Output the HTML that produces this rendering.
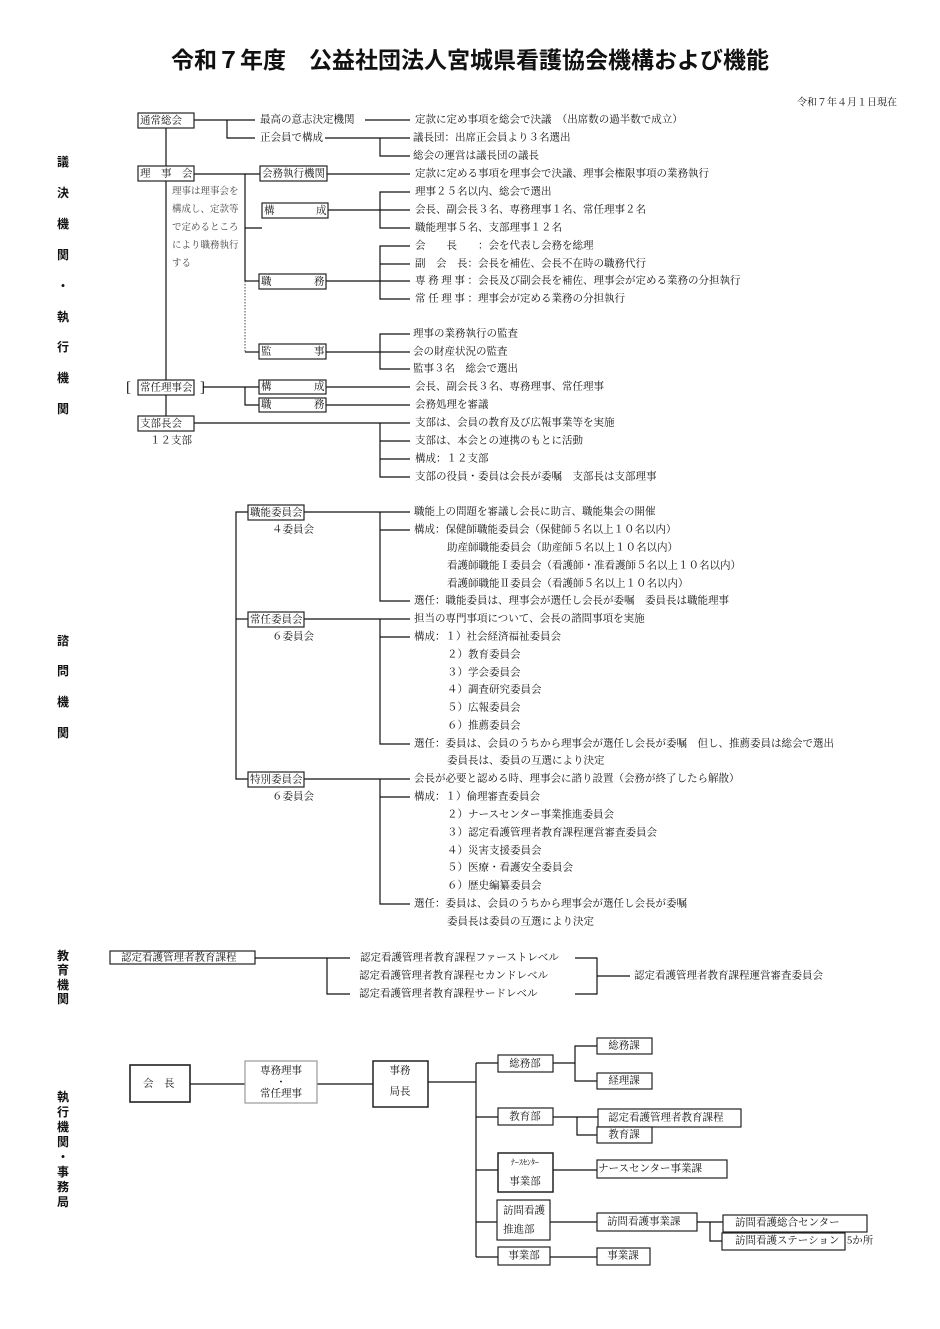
<!DOCTYPE html>
<html><head><meta charset="utf-8"><style>
html,body{margin:0;padding:0;background:#fff;}
svg{display:block;}
text{font-family:"Liberation Serif","Noto Serif CJK SC",serif;font-size:10.5px;fill:#111;dominant-baseline:middle;}
.t{font-family:"Liberation Sans","Noto Sans CJK JP",sans-serif;font-size:23px;font-weight:bold;text-anchor:middle;}
.s{font-size:9.5px;fill:#444;}
.v{font-family:"Liberation Sans","Noto Sans CJK JP",sans-serif;font-size:12px;font-weight:bold;text-anchor:middle;}
line,polyline{stroke:#111;stroke-width:1.2;fill:none;}
rect{fill:#fff;stroke:#222;stroke-width:1.2;}
</style></head><body>
<svg width="940" height="1329" viewBox="0 0 940 1329" xmlns="http://www.w3.org/2000/svg">
<text class="t" x="470" y="62">令和７年度　公益社団法人宮城県看護協会機構および機能</text>
<text x="897" y="103" style="text-anchor:end;font-size:10px">令和７年４月１日現在</text>

<g>
<text class="v" x="63" y="163">議</text><text class="v" x="63" y="194">決</text><text class="v" x="63" y="225">機</text><text class="v" x="63" y="256">関</text><text class="v" x="63" y="287">・</text><text class="v" x="63" y="318">執</text><text class="v" x="63" y="348">行</text><text class="v" x="63" y="379">機</text><text class="v" x="63" y="410">関</text>
<text class="v" x="63" y="642">諮</text><text class="v" x="63" y="672">問</text><text class="v" x="63" y="703">機</text><text class="v" x="63" y="734">関</text>
<text class="v" x="63" y="957">教</text><text class="v" x="63" y="971">育</text><text class="v" x="63" y="986">機</text><text class="v" x="63" y="1000">関</text>
<text class="v" x="63" y="1098">執</text><text class="v" x="63" y="1113">行</text><text class="v" x="63" y="1128">機</text><text class="v" x="63" y="1143">関</text><text class="v" x="63" y="1158">・</text><text class="v" x="63" y="1173">事</text><text class="v" x="63" y="1188">務</text><text class="v" x="63" y="1203">局</text>
</g>

<line x1="166" y1="128" x2="166" y2="416"/>
<line x1="194" y1="120" x2="255" y2="120"/>
<polyline points="227,120 227,138 255,138"/>
<line x1="365" y1="120" x2="410" y2="120"/>
<line x1="325" y1="138" x2="410" y2="138"/>
<polyline points="380,138 380,156 410,156"/>
<line x1="194" y1="174" x2="260" y2="174"/>
<line x1="245" y1="174" x2="245" y2="281"/>
<line x1="245" y1="281" x2="245" y2="352" style="stroke-dasharray:1.5,1.5;stroke:#666"/>
<line x1="245" y1="228" x2="262" y2="228"/>
<line x1="245" y1="281" x2="259" y2="281"/>
<line x1="245" y1="352" x2="259" y2="352"/>
<line x1="327" y1="174" x2="410" y2="174"/>
<line x1="328" y1="210" x2="410" y2="210"/>
<polyline points="410,192 380,192 380,228 410,228"/>
<line x1="326" y1="281" x2="380" y2="281"/>
<polyline points="410,246 380,246 380,299 410,299"/>
<line x1="380" y1="264" x2="410" y2="264"/><line x1="380" y1="281" x2="410" y2="281"/>
<line x1="326" y1="352" x2="410" y2="352"/>
<polyline points="410,334 380,334 380,369 410,369"/>
<line x1="203" y1="387" x2="259" y2="387"/>
<polyline points="245,387 245,405 259,405"/>
<line x1="326" y1="387" x2="410" y2="387"/>
<line x1="326" y1="405" x2="410" y2="405"/>
<line x1="194" y1="423" x2="410" y2="423"/>
<polyline points="380,423 380,477 410,477"/>
<line x1="380" y1="441" x2="410" y2="441"/><line x1="380" y1="459" x2="410" y2="459"/>

<rect x="138" y="113" width="56" height="15"/><text x="140" y="121">通常総会</text>
<rect x="138" y="166" width="56" height="15"/><text x="140" y="174">理　事　会</text>
<rect x="260" y="166" width="67" height="15"/><text x="262" y="174">会務執行機関</text>
<rect x="262" y="203" width="66" height="15"/><text x="264" y="211">構</text><text x="316" y="211">成</text>
<rect x="259" y="274" width="67" height="15"/><text x="261" y="282">職</text><text x="314" y="282">務</text>
<rect x="259" y="344" width="67" height="15"/><text x="261" y="352">監</text><text x="314" y="352">事</text>
<text x="126" y="388" style="font-size:15px">[</text><text x="200" y="388" style="font-size:15px">]</text>
<rect x="138" y="380" width="56" height="15"/><text x="140" y="388">常任理事会</text>
<rect x="259" y="380" width="67" height="14"/><text x="261" y="387">構</text><text x="314" y="387">成</text>
<rect x="259" y="398" width="67" height="14"/><text x="261" y="405">職</text><text x="314" y="405">務</text>
<rect x="138" y="416" width="56" height="15"/><text x="140" y="424">支部長会</text>
<text x="150" y="441">１２支部</text>

<text x="260" y="120">最高の意志決定機関</text>
<text x="260" y="138">正会員で構成</text>
<text class="s" x="172" y="192">理事は理事会を</text>
<text class="s" x="172" y="210">構成し、定款等</text>
<text class="s" x="172" y="228">で定めるところ</text>
<text class="s" x="172" y="246">により職務執行</text>
<text class="s" x="172" y="264">する</text>

<text x="415" y="120">定款に定め事項を総会で決議　（出席数の過半数で成立）</text>
<text x="413" y="138">議長団：出席正会員より３名選出</text>
<text x="413" y="156">総会の運営は議長団の議長</text>
<text x="415" y="174">定款に定める事項を理事会で決議、理事会権限事項の業務執行</text>
<text x="415" y="192">理事２５名以内、総会で選出</text>
<text x="415" y="210">会長、副会長３名、専務理事１名、常任理事２名</text>
<text x="415" y="228">職能理事５名、支部理事１２名</text>
<text x="415" y="246">会　　長　　：会を代表し会務を総理</text>
<text x="415" y="264">副　会　長：会長を補佐、会長不在時の職務代行</text>
<text x="415" y="281">専 務 理 事 ：会長及び副会長を補佐、理事会が定める業務の分担執行</text>
<text x="415" y="299">常 任 理 事 ：理事会が定める業務の分担執行</text>
<text x="413" y="334">理事の業務執行の監査</text>
<text x="413" y="352">会の財産状況の監査</text>
<text x="413" y="369">監事３名　総会で選出</text>
<text x="415" y="387">会長、副会長３名、専務理事、常任理事</text>
<text x="415" y="405">会務処理を審議</text>
<text x="415" y="423">支部は、会員の教育及び広報事業等を実施</text>
<text x="415" y="441">支部は、本会との連携のもとに活動</text>
<text x="415" y="459">構成：１２支部</text>
<text x="415" y="477">支部の役員・委員は会長が委嘱　支部長は支部理事</text>

<polyline points="248,512 236,512 236,779 248,779"/>
<line x1="236" y1="619" x2="248" y2="619"/>
<line x1="304" y1="512" x2="410" y2="512"/>
<polyline points="380,512 380,601 410,601"/><line x1="380" y1="530" x2="410" y2="530"/>
<line x1="304" y1="619" x2="410" y2="619"/>
<polyline points="380,619 380,744 410,744"/><line x1="380" y1="637" x2="410" y2="637"/>
<line x1="304" y1="779" x2="410" y2="779"/>
<polyline points="380,779 380,904 410,904"/><line x1="380" y1="797" x2="410" y2="797"/>

<rect x="248" y="505" width="56" height="15"/><text x="250" y="513">職能委員会</text>
<text x="272" y="530">４委員会</text>
<rect x="248" y="612" width="56" height="15"/><text x="250" y="620">常任委員会</text>
<text x="272" y="637">６委員会</text>
<rect x="248" y="772" width="56" height="15"/><text x="250" y="780">特別委員会</text>
<text x="272" y="797">６委員会</text>

<text x="414" y="512">職能上の問題を審議し会長に助言、職能集会の開催</text>
<text x="414" y="530">構成：保健師職能委員会（保健師５名以上１０名以内）</text>
<text x="447" y="548">助産師職能委員会（助産師５名以上１０名以内）</text>
<text x="447" y="566">看護師職能Ⅰ委員会（看護師・准看護師５名以上１０名以内）</text>
<text x="447" y="584">看護師職能Ⅱ委員会（看護師５名以上１０名以内）</text>
<text x="414" y="601">選任：職能委員は、理事会が選任し会長が委嘱　委員長は職能理事</text>
<text x="414" y="619">担当の専門事項について、会長の諮問事項を実施</text>
<text x="414" y="637">構成：１）社会経済福祉委員会</text>
<text x="447" y="655">２）教育委員会</text>
<text x="447" y="673">３）学会委員会</text>
<text x="447" y="690">４）調査研究委員会</text>
<text x="447" y="708">５）広報委員会</text>
<text x="447" y="726">６）推薦委員会</text>
<text x="414" y="744">選任：委員は、会員のうちから理事会が選任し会長が委嘱　但し、推薦委員は総会で選出</text>
<text x="447" y="761">委員長は、委員の互選により決定</text>
<text x="414" y="779">会長が必要と認める時、理事会に諮り設置（会務が終了したら解散）</text>
<text x="414" y="797">構成：１）倫理審査委員会</text>
<text x="447" y="815">２）ナースセンター事業推進委員会</text>
<text x="447" y="833">３）認定看護管理者教育課程運営審査委員会</text>
<text x="447" y="851">４）災害支援委員会</text>
<text x="447" y="868">５）医療・看護安全委員会</text>
<text x="447" y="886">６）歴史編纂委員会</text>
<text x="414" y="904">選任：委員は、会員のうちから理事会が選任し会長が委嘱</text>
<text x="447" y="922">委員長は委員の互選により決定</text>

<rect x="110" y="951" width="145" height="13"/><text x="121" y="958">認定看護管理者教育課程</text>
<line x1="255" y1="958" x2="327" y2="958"/>
<polyline points="350,958 327,958 327,994 350,994"/>
<text x="360" y="958">認定看護管理者教育課程ファーストレベル</text>
<text x="359" y="976">認定看護管理者教育課程セカンドレベル</text>
<text x="359" y="994">認定看護管理者教育課程サードレベル</text>
<polyline points="575,958 597,958 597,994 575,994"/>
<line x1="597" y1="976" x2="630" y2="976"/>
<text x="634" y="976">認定看護管理者教育課程運営審査委員会</text>

<line x1="190" y1="1084" x2="245" y2="1084"/>
<line x1="317" y1="1084" x2="373" y2="1084"/>
<line x1="428" y1="1082" x2="476" y2="1082"/>
<line x1="476" y1="1063" x2="476" y2="1257"/>
<line x1="476" y1="1063" x2="498" y2="1063"/>
<line x1="476" y1="1117" x2="498" y2="1117"/>
<line x1="476" y1="1170" x2="498" y2="1170"/>
<line x1="476" y1="1222" x2="497" y2="1222"/>
<line x1="476" y1="1257" x2="498" y2="1257"/>
<line x1="553" y1="1063" x2="575" y2="1063"/>
<polyline points="597,1046 575,1046 575,1081 597,1081"/>
<line x1="553" y1="1117" x2="598" y2="1117"/>
<polyline points="577,1117 577,1135 597,1135"/>
<line x1="553" y1="1170" x2="597" y2="1170"/>
<line x1="550" y1="1222" x2="597" y2="1222"/>
<line x1="697" y1="1222" x2="723" y2="1222"/>
<polyline points="710,1222 710,1241 722,1241"/>
<line x1="550" y1="1257" x2="597" y2="1257"/>

<rect x="130" y="1065" width="60" height="37" style="stroke-width:1.6"/><text x="143" y="1084">会　長</text>
<rect x="245" y="1061" width="72" height="42" style="stroke:#999"/>
<text x="281" y="1071" style="text-anchor:middle">専務理事</text><text x="281" y="1083" style="text-anchor:middle">・</text><text x="281" y="1094" style="text-anchor:middle">常任理事</text>
<rect x="373" y="1061" width="55" height="46" style="stroke-width:1.5"/>
<text x="400" y="1071" style="text-anchor:middle">事務</text><text x="400" y="1092" style="text-anchor:middle">局長</text>
<rect x="498" y="1055" width="55" height="17"/><text x="525" y="1064" style="text-anchor:middle">総務部</text>
<rect x="498" y="1108" width="55" height="17"/><text x="525" y="1117" style="text-anchor:middle">教育部</text>
<rect x="498" y="1153" width="55" height="39" style="stroke-width:1.5"/><text x="525" y="1163" style="text-anchor:middle;font-size:8px">ﾅｰｽｾﾝﾀｰ</text><text x="525" y="1182" style="text-anchor:middle">事業部</text>
<rect x="497" y="1200" width="53" height="40"/><text x="503" y="1211">訪問看護</text><text x="503" y="1230">推進部</text>
<rect x="498" y="1247" width="52" height="18"/><text x="524" y="1256" style="text-anchor:middle">事業部</text>
<rect x="597" y="1038" width="55" height="16"/><text x="624" y="1046" style="text-anchor:middle">総務課</text>
<rect x="597" y="1073" width="55" height="16"/><text x="624" y="1081" style="text-anchor:middle">経理課</text>
<rect x="598" y="1109" width="143" height="18"/><text x="608" y="1118">認定看護管理者教育課程</text>
<rect x="597" y="1127" width="55" height="16"/><text x="624" y="1135" style="text-anchor:middle">教育課</text>
<rect x="597" y="1160" width="130" height="18"/><text x="598" y="1169">ナースセンター事業課</text>
<rect x="597" y="1213" width="100" height="18"/><text x="607" y="1222">訪問看護事業課</text>
<rect x="723" y="1215" width="144" height="17"/><text x="735" y="1223">訪問看護総合センター</text>
<rect x="722" y="1233" width="123" height="17"/><text x="735" y="1241">訪問看護ステーション</text>
<text x="847" y="1241">5か所</text>
<rect x="597" y="1248" width="53" height="17"/><text x="623" y="1256" style="text-anchor:middle">事業課</text>
</svg>
</body></html>
